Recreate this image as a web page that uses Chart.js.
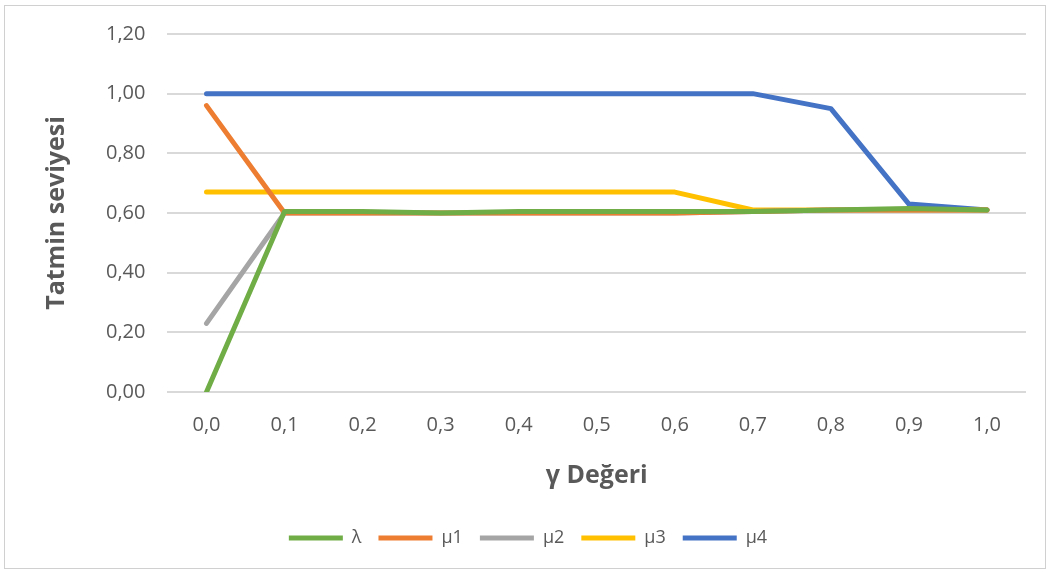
<!DOCTYPE html>
<html>
<head>
<meta charset="utf-8">
<script src="https://cdn.jsdelivr.net/npm/chart.js@4"></script>
<style>
    html, body { margin: 0; padding: 0; background: #fff; }
    #frame {
        position: absolute; left: 4px; top: 5px; width: 1042px; height: 564px;
        border: 1px solid #d0d0d0; box-sizing: border-box;
    }
    #wrap { position: absolute; left: 0; top: 0; width: 1052px; height: 574px; }
</style>
</head>
<body>
<div id="frame"></div>
<div id="wrap"><canvas id="chart" width="1052" height="574"></canvas></div>
<script>
// gamma values on the x axis
var categories = ['0,0', '0,1', '0,2', '0,3', '0,4', '0,5', '0,6', '0,7', '0,8', '0,9', '1,0'];

// satisfaction levels per series
var lambdaValues = [0.00, 0.605, 0.605, 0.60, 0.605, 0.605, 0.605, 0.605, 0.61, 0.615, 0.61];
var mu1Values = [0.96, 0.60, 0.60, 0.60, 0.60, 0.60, 0.60, 0.605, 0.61, 0.61, 0.61];
var mu2Values = [0.23, 0.60, 0.60, 0.60, 0.60, 0.60, 0.60, 0.605, 0.61, 0.61, 0.61];
var mu3Values = [0.67, 0.67, 0.67, 0.67, 0.67, 0.67, 0.67, 0.61, 0.61, 0.61, 0.61];
var mu4Values = [1.00, 1.00, 1.00, 1.00, 1.00, 1.00, 1.00, 1.00, 0.95, 0.63, 0.61];

var seriesNames = ['\u03bb', '\u03bc1', '\u03bc2', '\u03bc3', '\u03bc4'];
var seriesColors = ['#70ad47', '#ed7d31', '#a5a5a5', '#ffc000', '#4472c4'];

document.addEventListener('DOMContentLoaded', () => {
    "use strict";

    var allValues = [lambdaValues, mu1Values, mu2Values, mu3Values, mu4Values];
    var datasets = allValues.map(function(vals, i) {
        return {
            label: seriesNames[i],
            data: vals,
            borderColor: seriesColors[i],
            backgroundColor: seriesColors[i],
            borderWidth: 5,
            borderCapStyle: 'round',
            borderJoinStyle: 'round',
            pointRadius: 0,
            tension: 0,
            fill: false
        };
    });

    var ctx = document.getElementById('chart').getContext('2d');
    new Chart(ctx, {
        type: 'line',
        data: { labels: categories, datasets: datasets },
        options: {
            responsive: false,
            animation: false,
            layout: { padding: { left: 30, right: 26, top: 22, bottom: 17 } },
            plugins: {
                tooltip: { enabled: false },
                legend: {
                    position: 'bottom',
                    labels: {
                        usePointStyle: true,
                        pointStyle: 'line',
                        pointStyleWidth: 54,
                        padding: 17,
                        color: '#595959',
                        font: { family: 'Open Sans', size: 18 }
                    }
                }
            },
            scales: {
                x: {
                    offset: true,
                    grid: { display: false },
                    border: { display: false },
                    ticks: {
                        color: '#595959',
                        padding: 13,
                        font: { family: 'Open Sans', size: 20 }
                    },
                    title: {
                        display: true,
                        text: '\u03b3 De\u011feri',
                        color: '#595959',
                        padding: { top: 11, bottom: 21 },
                        font: { family: 'Open Sans', size: 25, weight: 'bold' }
                    }
                },
                y: {
                    min: 0,
                    max: 1.2,
                    grid: { color: '#d9d9d9', lineWidth: 2, drawTicks: false },
                    border: { display: false },
                    ticks: {
                        stepSize: 0.2,
                        color: '#595959',
                        padding: 22,
                        font: { family: 'Open Sans', size: 20 },
                        callback: function(v) { return v.toFixed(2).replace('.', ','); }
                    },
                    title: {
                        display: true,
                        text: 'Tatmin seviyesi',
                        color: '#595959',
                        padding: { top: 12, bottom: 12 },
                        font: { family: 'Open Sans', size: 25, weight: 'bold' }
                    }
                }
            }
        }
    });
});
</script>
</body>
</html>
